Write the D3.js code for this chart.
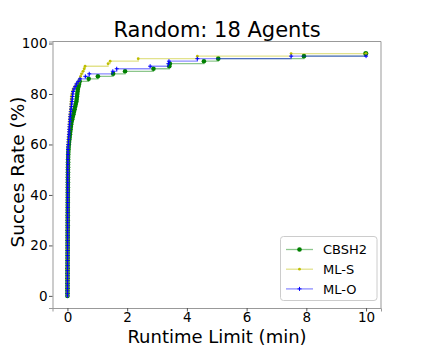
<!DOCTYPE html>
<html>
<head>
<meta charset="utf-8">
<script src="https://cdn.jsdelivr.net/npm/d3@7"></script>
<style>
  body { margin: 0; background: #fff; }
  text { font-family: "DejaVu Sans", sans-serif; }
</style>
</head>
<body>
<script>
// total number of instances, and the time limit (min)
var totalInstances = 100;
var timeLimit = 10;

// sorted solve times (min) of every solved instance, per solver
var cbsh2Times = [0,
  0.001,0.001,0.001,0.002,0.002,0.002,0.002,0.003,0.003,0.003,
  0.003,0.004,0.004,0.004,0.005,0.005,0.005,0.006,0.006,0.006,
  0.007,0.007,0.007,0.008,0.008,0.008,0.009,0.009,0.009,0.010,
  0.010,0.010,0.011,0.011,0.011,0.012,0.012,0.013,0.013,0.014,
  0.014,0.015,0.015,0.016,0.016,0.017,0.017,0.018,0.018,0.019,
  0.020,0.021,0.022,0.023,0.025,0.027,0.030,0.035,0.040,0.048,
  0.055,0.065,0.075,0.085,0.095,0.105,0.115,0.125,0.14,0.16,
  0.18,0.20,0.22,0.24,0.26,0.28,0.30,0.31,0.32,0.33,
  0.34,0.35,0.37,0.39,0.41,
  0.71,1.02,1.53,1.93,2.88,3.41,3.43,4.57,5.05,7.92,9.98];

var mlsTimes = [0,
  0.001,0.001,0.001,0.001,0.002,0.002,0.002,0.002,0.002,0.003,
  0.003,0.003,0.003,0.004,0.004,0.004,0.004,0.005,0.005,0.005,
  0.005,0.006,0.006,0.006,0.007,0.007,0.007,0.008,0.008,0.008,
  0.009,0.009,0.009,0.010,0.010,0.010,0.011,0.011,0.011,0.012,
  0.012,0.012,0.013,0.013,0.013,0.014,0.014,0.015,0.015,0.016,
  0.016,0.017,0.017,0.018,0.018,0.019,0.019,0.020,0.021,0.025,
  0.03,0.035,0.04,0.045,0.05,0.055,0.06,0.065,0.07,0.075,
  0.08,0.09,0.10,0.105,0.11,0.115,0.12,0.125,0.13,0.15,
  0.17,0.19,0.25,0.30,0.38,0.41,0.44,0.47,0.52,0.56,
  0.59,1.36,1.43,2.37,4.35,7.49];

var mloTimes = [0,
  0.001,0.001,0.001,0.001,0.001,0.002,0.002,0.002,0.002,0.002,
  0.003,0.003,0.003,0.003,0.004,0.004,0.004,0.004,0.005,0.005,
  0.005,0.005,0.006,0.006,0.006,0.006,0.007,0.007,0.007,0.007,
  0.008,0.008,0.008,0.009,0.009,0.009,0.010,0.010,0.010,0.011,
  0.011,0.011,0.011,0.012,0.012,0.012,0.012,0.012,0.013,0.013,
  0.013,0.014,0.015,0.016,0.017,0.018,0.019,0.020,0.022,0.030,
  0.035,0.04,0.045,0.05,0.055,0.06,0.065,0.07,0.08,0.085,
  0.09,0.10,0.11,0.12,0.13,0.14,0.15,0.16,0.17,0.18,
  0.19,0.22,0.26,
  0.30,0.36,0.42,0.60,0.73,1.52,1.65,2.77,3.38,3.40,4.35,7.49];

var seriesNames = ["CBSH2", "ML-S", "ML-O"];
var seriesTimes = [cbsh2Times, mlsTimes, mloTimes];
var seriesColors = ["#008000", "#bfbf00", "#0000ff"];
var seriesMarkers = ["circle", "dot", "plus"];

var xTicks = [0, 2, 4, 6, 8, 10];
var yTicks = [0, 20, 40, 60, 80, 100];

var width = 423,
    height = 346;

var svg = d3.select("body").append("svg")
    .attr("width", width)
    .attr("height", height);

svg.append("rect")
    .attr("width", width)
    .attr("height", height)
    .attr("fill", "#fff");

// scales with matplotlib style 5% margins
var x = d3.scaleLinear().domain([-0.5, 10.5]).range([52.5, 381]);
var y = d3.scaleLinear().domain([-4.8, 100.8]).range([308, 41.5]);

// turns the solve times into (time, success rate) points
function toPoints(times) {
  var pts = times.map(function(t, i) { return [t, i / totalInstances * 100]; });
  // extend to the time limit
  pts.push([timeLimit, pts[pts.length - 1][1]]);
  return pts;
}

var line = d3.line()
    .x(function(d) { return x(d[0]); })
    .y(function(d) { return y(d[1]); })
    .curve(d3.curveStepAfter);

function drawMarker(sel, kind, color) {
  if (kind == "circle") {
    sel.append("circle").attr("r", 2.3).attr("fill", color);
  } else if (kind == "dot") {
    sel.append("circle").attr("r", 1.4).attr("fill", color);
  } else {
    sel.append("path").attr("d", "M-2,0H2M0,-2V2")
        .attr("stroke", color).attr("stroke-width", 1);
  }
}

var plot = svg.append("g");

seriesTimes.forEach(function(times, s) {
  var pts = toPoints(times);
  plot.append("path")
      .datum(pts)
      .attr("d", line)
      .attr("fill", "none")
      .attr("stroke", seriesColors[s])
      .attr("stroke-opacity", 0.45)
      .attr("stroke-width", 1.3);
  var m = plot.append("g").selectAll("g")
      .data(pts)
      .enter().append("g")
      .attr("transform", function(d) { return "translate(" + x(d[0]) + "," + y(d[1]) + ")"; });
  drawMarker(m, seriesMarkers[s], seriesColors[s]);
});

// axes
var xAxis = svg.append("g")
    .attr("transform", "translate(0,308)")
    .call(d3.axisBottom(x).tickValues(xTicks).tickSize(3.5).tickPadding(1));
var yAxis = svg.append("g")
    .attr("transform", "translate(52.5,0)")
    .call(d3.axisLeft(y).tickValues(yTicks).tickSize(3.5).tickPadding(1.5));

[xAxis, yAxis].forEach(function(a) {
  a.selectAll("text").attr("font-size", 13.5).attr("fill", "#000")
      .attr("font-family", "DejaVu Sans");
  a.selectAll("line").attr("stroke", "#555");
  a.select(".domain").attr("stroke", "#999");
});

// top and right frame
svg.append("path")
    .attr("d", "M52.5,41.5H381V308")
    .attr("fill", "none")
    .attr("stroke", "#999");

// title and axis labels
svg.append("text")
    .attr("x", 217).attr("y", 36.5)
    .attr("text-anchor", "middle")
    .attr("font-size", 21)
    .text("Random: 18 Agents");

svg.append("text")
    .attr("x", 217).attr("y", 342.5)
    .attr("text-anchor", "middle")
    .attr("font-size", 18)
    .text("Runtime Limit (min)");

svg.append("text")
    .attr("transform", "translate(24,172) rotate(-90)")
    .attr("text-anchor", "middle")
    .attr("font-size", 18.5)
    .text("Succes Rate (%)");

// legend
var legend = svg.append("g");
legend.append("rect")
    .attr("x", 280.5).attr("y", 236.5)
    .attr("width", 96.5).attr("height", 64)
    .attr("rx", 3)
    .attr("fill", "#fff").attr("fill-opacity", 0.8)
    .attr("stroke", "#ccc");

var rows = legend.selectAll("g.row")
    .data(seriesNames)
    .enter().append("g")
    .attr("class", "row")
    .attr("transform", function(d, i) { return "translate(0," + (249.5 + i * 19.7) + ")"; });

rows.append("line")
    .attr("x1", 286).attr("x2", 313)
    .attr("stroke", function(d, i) { return seriesColors[i]; })
    .attr("stroke-opacity", 0.45)
    .attr("stroke-width", 1.3);

rows.each(function(d, i) {
  var g = d3.select(this).append("g").attr("transform", "translate(299.5,0)");
  drawMarker(g, seriesMarkers[i], seriesColors[i]);
});

rows.append("text")
    .attr("x", 323).attr("y", 4.7)
    .attr("font-size", 13)
    .text(function(d) { return d; });
</script>
</body>
</html>
